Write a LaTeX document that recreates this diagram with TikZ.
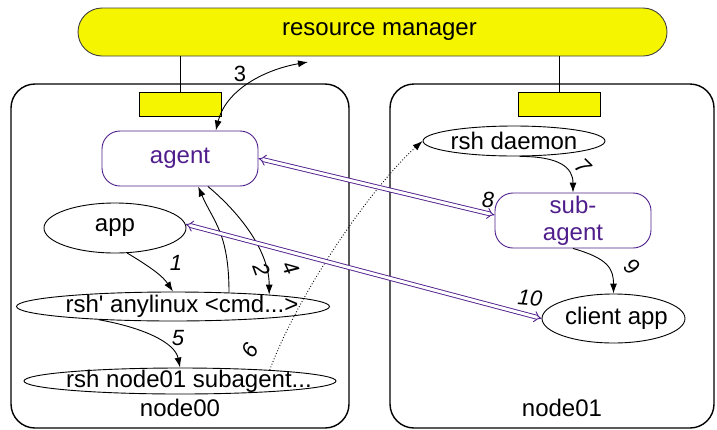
\documentclass[tikz,border=0pt]{standalone}
\usepackage{fontspec}
\setmainfont{Liberation Sans}
\usetikzlibrary{arrows.meta,calc,positioning,shapes.geometric}

\definecolor{rmyellow}{RGB}{245,245,0}
\definecolor{agentpurple}{RGB}{80,30,140}

\tikzset{
  txt/.style={font=\fontsize{24}{27}\selectfont},
  num/.style={font=\fontsize{22}{24}\selectfont\itshape},
  host/.style={draw,line width=1.4pt,rounded corners=24pt,minimum width=#1,minimum height=344pt},
  port/.style={draw,fill=rmyellow,minimum width=82pt,minimum height=24pt,inner sep=0pt},
  agentbox/.style={draw=agentpurple,text=agentpurple,txt,rounded corners=18pt,
    minimum width=156pt,minimum height=55pt,align=center,inner sep=0pt},
  proc/.style={draw,ellipse,inner sep=0pt},
  flow/.style={-{Latex[length=10pt,width=7pt]}},
  twoway/.style={{Latex[length=10pt,width=7pt]}-{Latex[length=10pt,width=7pt]}},
  link/.style={draw=agentpurple,line width=0.9pt,double=white,double distance=3pt,{Implies}-{Implies}},
}

\begin{document}
\begin{tikzpicture}[x=1pt,y=-1pt,line width=0.9pt]
  \useasboundingbox (0,0) rectangle (717,429);

  % the two hosts
  \node[host=338pt] (node00) at (180,256) {};
  \node[host=324pt] (node01) at (552,256) {};
  \node[txt] (lbl00) at (180,408) {node00};
  \node[txt] (lbl01) at (562,408) {node01};

  % resource manager and its ports
  \node[draw=black!75,fill=rmyellow,rounded corners=24pt,minimum width=589pt,
        minimum height=48pt,txt,label={[txt,xshift=7pt]center:resource manager}] (rm) at (372.5,32) {};
  \node[port] (port00) at (180,104) {};
  \node[port] (port01) at (559.5,104) {};
  \draw (rm.south -| port00) -- (port00);
  \draw (rm.south -| port01) -- (port01);
  \coordinate (rmtap) at (308,62);

  % node00
  \node[agentbox] (agent) at (180,158.5) {agent};
  \node[proc,minimum width=142pt,minimum height=50pt,
        label={[txt]center:app}] (app) at (115,228) {};
  \node[proc,minimum width=313pt,minimum height=29pt,
        label={[txt,xshift=9pt]center:rsh\textquotesingle{} anylinux <cmd...>}] (rshany) at (173,306.5) {};
  \node[proc,minimum width=312pt,minimum height=26pt,
        label={[txt,xshift=9pt]center:rsh node01 subagent...}] (rshsub) at (180,381) {};

  % node01
  \node[proc,minimum width=182pt,minimum height=30pt,
        label={[txt]center:rsh daemon}] (rshd) at (514,141) {};
  \node[agentbox] (subagent) at (573,220.5) {sub-\\agent};
  \node[proc,minimum width=143pt,minimum height=49pt,
        label={[txt,xshift=3pt]center:client app}] (capp) at (613.5,318.5) {};

  % steps
  \draw[flow] (app.-64) .. controls +(25,15) and +(-10,-15) .. (rshany.north);
  \draw[flow] (agent.-45) .. controls +(30,25) and +(0,-45) .. (rshany.7);
  \draw[twoway] (agent.38) .. controls +(10,-40) and +(-45,8) .. (rmtap);
  \draw[flow] (rshany.14) .. controls +(0,-60) and +(15,35) .. (agent.-57);
  \draw[flow] (rshany.-170) .. controls +(45,8) and +(-5,-25) .. (rshsub.north);
  \draw[flow,dotted] (rshsub.7) .. controls +(30,-80) and +(-50,45) .. (rshd.west);
  \draw[flow] (rshd.-70) .. controls +(40,0) and +(0,-25) .. (subagent.north);
  \draw[link] (agent.east) -- (subagent.176);
  \draw[flow] (subagent.south) .. controls +(35,10) and +(0,-25) .. (capp.north);
  \draw[link] (app.3) -- (capp.west);

  \node[num] (n1) at (176,263) {1};
  \node[num,rotate=-70] (n2) at (262,270) {2};
  \node[txt,font=\fontsize{22}{24}\selectfont] (n3) at (240,74) {3};
  \node[num,rotate=-65] (n4) at (291,268) {4};
  \node[num] (n5) at (178,338) {5};
  \node[num,rotate=60] (n6) at (250,350) {6};
  \node[num,rotate=-45] (n7) at (583,166) {7};
  \node[num] (n8) at (488,200) {8};
  \node[num,rotate=-40] (n9) at (632,267) {9};
  \node[num,rotate=-5] (n10) at (530,298) {10};
\end{tikzpicture}
\end{document}
